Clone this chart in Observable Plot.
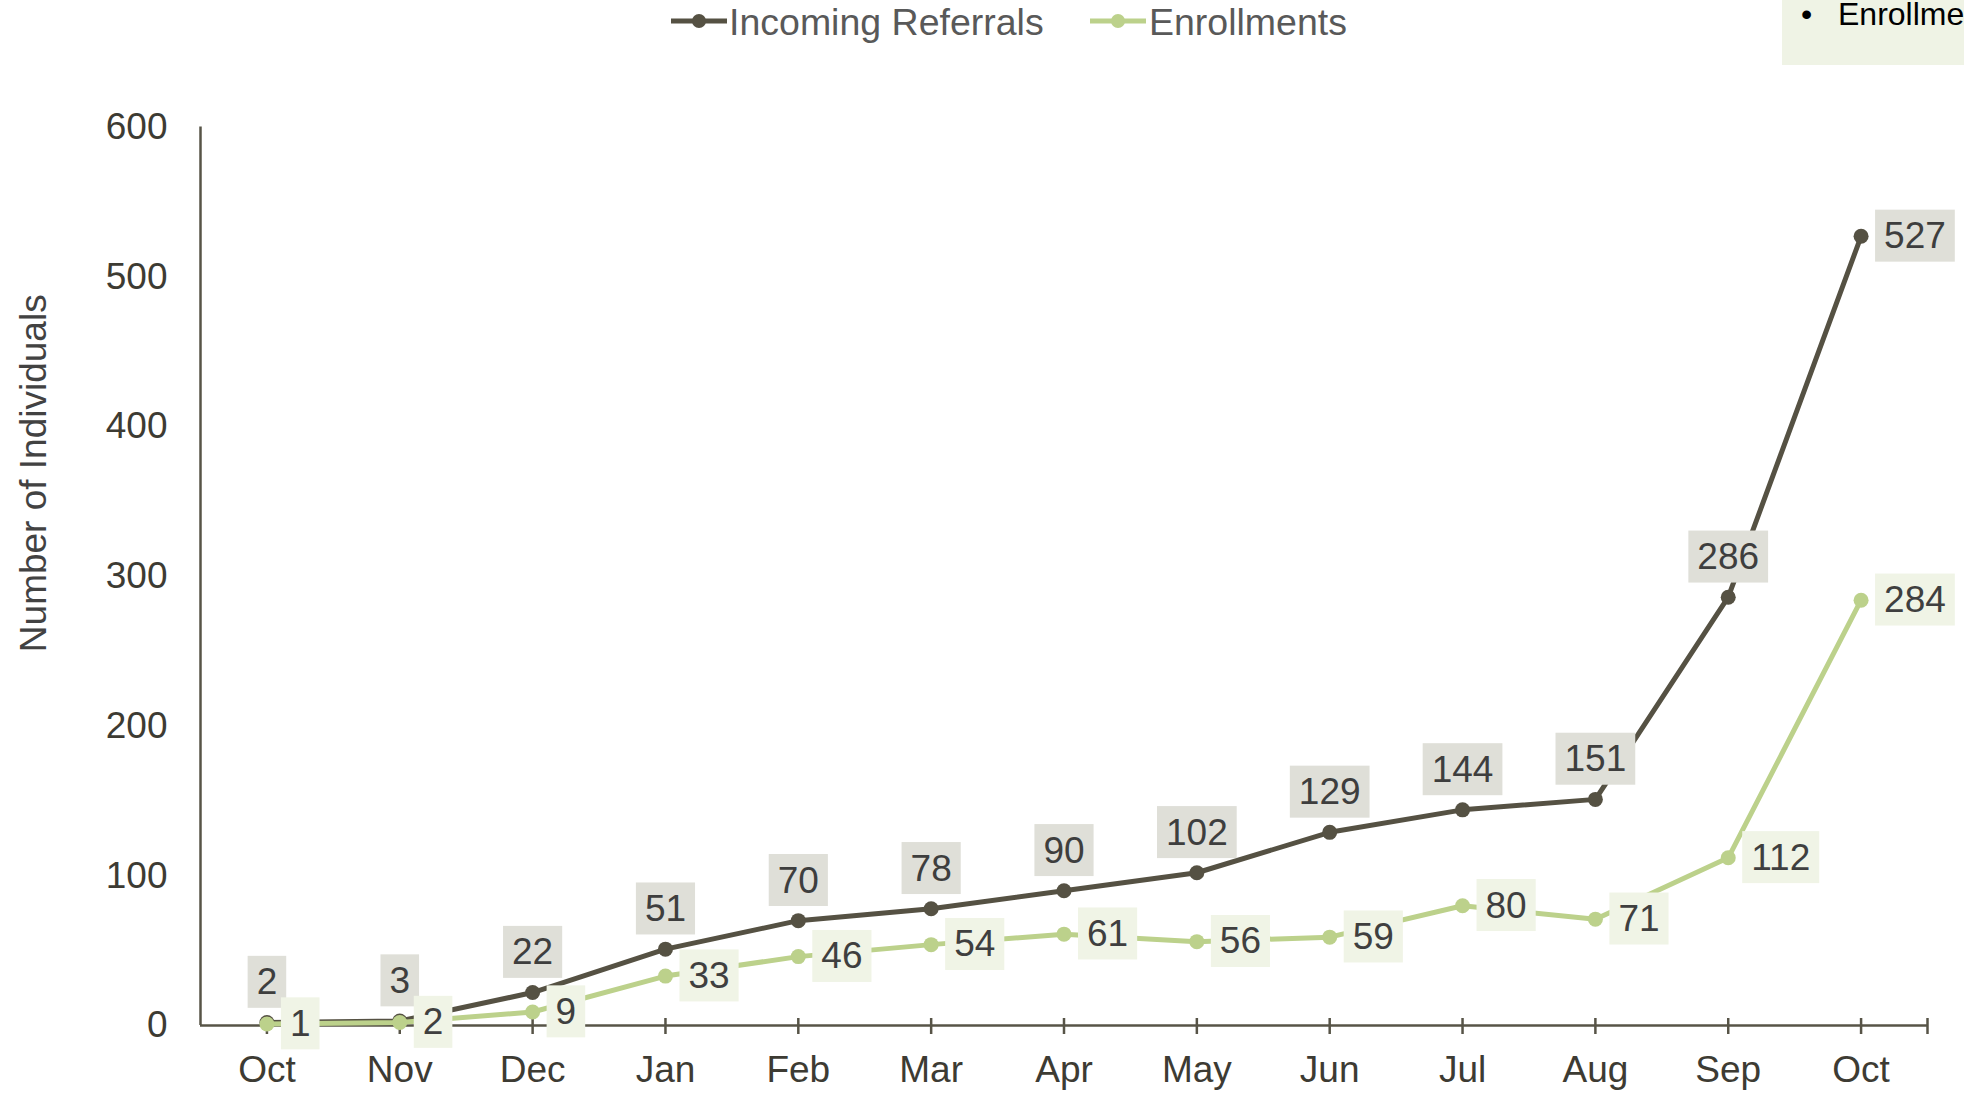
<!DOCTYPE html>
<html>
<head>
<meta charset="utf-8">
<script src="https://cdn.jsdelivr.net/npm/d3@7"></script>
<script src="https://cdn.jsdelivr.net/npm/@observablehq/plot@0.6"></script>
<style>
  html, body { margin: 0; padding: 0; background: #ffffff; overflow: hidden; }
  #wrap { position: relative; width: 1964px; height: 1096px; font-family: "Liberation Sans", Arial, sans-serif; }
  #chart { position: absolute; left: 0; top: 0; }
  .legtext { position: absolute; top: 1px; font-size: 37.5px; color: #595959; white-space: nowrap; line-height: normal; }
  .legmark { position: absolute; top: 0; }
  #tip { position: absolute; left: 1782px; top: 0; width: 182px; height: 65px; background: #eff3e5; overflow: hidden; }
  #tip span { position: absolute; top: -4px; font-size: 32px; color: #000; white-space: nowrap; line-height: normal; }
</style>
</head>
<body>
<div id="wrap">
  <div id="chart"></div>
</div>
<script>
// ---- data ----
const months = ["Oct", "Nov", "Dec", "Jan", "Feb", "Mar", "Apr", "May", "Jun", "Jul", "Aug", "Sep", "Oct"];
const referrals = [2, 3, 22, 51, 70, 78, 90, 102, 129, 144, 151, 286, 527];
const enrollments = [1, 2, 9, 33, 46, 54, 61, 56, 59, 80, 71, 112, 284];
const yTicks = [0, 100, 200, 300, 400, 500, 600];
const seriesNames = ["Incoming Referrals", "Enrollments"];
const refLabelSide = ["top", "top", "top", "top", "top", "top", "top", "top", "top", "top", "top", "top", "right"];
const enrLabelSide = ["right", "right", "right", "right", "right", "right", "right", "right", "right", "right", "right", "right", "right"];
const yTitle = "Number of Individuals";

// ---- styles ----
const refColor = "#555143";
const enrColor = "#bcd18b";
const refBox = "#dfdfd8";
const enrBox = "#f0f4e6";
const axisColor = "#575447";
const textColor = "#3d3b33";
const titleColor = "#424242";
const refLabelFill = "#3e3e3e";
const enrLabelFill = "#3f3f3f";

const refRows = referrals.map((v, i) => ({i, value: v, side: refLabelSide[i]}));
const enrRows = enrollments.map((v, i) => ({i, value: v, side: enrLabelSide[i]}));
const xTickPos = months.map((m, i) => i).concat([months.length - 0.5]);

function labelMarks(rows, fill) {
  const marks = [];
  if (rows.some(d => d.side === "top"))
    marks.push(Plot.text(rows, {filter: d => d.side === "top", x: "i", y: "value", text: d => String(d.value), textAnchor: "middle", dy: -40, fontSize: 37, fill}));
  if (rows.some(d => d.side === "right"))
    marks.push(Plot.text(rows, {filter: d => d.side === "right", x: "i", y: "value", text: d => String(d.value), textAnchor: "start", dx: 23, fontSize: 37, fill}));
  return marks;
}

const chart = Plot.plot({
  width: 1964,
  height: 1096,
  marginTop: 126.5,
  marginBottom: 71,
  marginLeft: 200,
  marginRight: 37,
  style: {fontFamily: "'Liberation Sans', Arial, sans-serif", fontSize: "37px", color: textColor, background: "transparent", overflow: "visible"},
  x: {type: "linear", domain: [-0.5, months.length - 0.5], ticks: months.map((m, i) => i), tickFormat: i => months[i], tickSize: 0, tickPadding: 30, label: null},
  y: {domain: [0, 600], ticks: yTicks, tickSize: 0, tickPadding: 33, label: null},
  marks: [
    Plot.ruleX([-0.5], {stroke: axisColor, strokeWidth: 2.5}),
    Plot.ruleY([0], {stroke: axisColor, strokeWidth: 2.5}),
    Plot.ruleX(xTickPos, {x: d => d, y1: 0, y2: 0, insetTop: -7, insetBottom: -9, stroke: axisColor, strokeWidth: 2.5}),
    Plot.text([yTitle], {frameAnchor: "left", textAnchor: "middle", rotate: -90, dx: -166, dy: -103, fontSize: 37, fill: titleColor}),
    Plot.line(refRows, {x: "i", y: "value", stroke: refColor, strokeWidth: 5, strokeLinejoin: "round"}),
    Plot.dot(refRows, {x: "i", y: "value", r: 7.5, fill: refColor, stroke: "none"}),
    Plot.line(enrRows, {x: "i", y: "value", stroke: enrColor, strokeWidth: 5, strokeLinejoin: "round"}),
    Plot.dot(enrRows, {x: "i", y: "value", r: 7.5, fill: enrColor, stroke: "none"}),
    ...labelMarks(refRows, refLabelFill),
    ...labelMarks(enrRows, enrLabelFill)
  ]
});
document.getElementById("chart").appendChild(chart);

// label background boxes
const svgns = "http://www.w3.org/2000/svg";
const boxFor = {[refLabelFill]: refBox, [enrLabelFill]: enrBox};
chart.querySelectorAll("text").forEach(t => {
  let fill = t.getAttribute("fill");
  if (!fill && t.parentNode) fill = t.parentNode.getAttribute("fill");
  const box = boxFor[fill];
  if (!box) return;
  const b = t.getBBox();
  const r = document.createElementNS(svgns, "rect");
  r.setAttribute("x", b.x - 9);
  r.setAttribute("y", b.y + b.height / 2 - 26);
  r.setAttribute("width", b.width + 18);
  r.setAttribute("height", 52);
  r.setAttribute("fill", box);
  r.setAttribute("stroke", "none");
  if (t.getAttribute("transform")) r.setAttribute("transform", t.getAttribute("transform"));
  t.parentNode.insertBefore(r, t);
});

// legend (HTML above the svg)
const wrap = document.getElementById("wrap");
const legendItems = [
  {name: seriesNames[0], color: refColor, markLeft: 671, textLeft: 729},
  {name: seriesNames[1], color: enrColor, markLeft: 1090, textLeft: 1149}
];
legendItems.forEach(it => {
  const m = document.createElementNS(svgns, "svg");
  m.setAttribute("class", "legmark");
  m.setAttribute("width", 56);
  m.setAttribute("height", 42);
  m.style.left = it.markLeft + "px";
  m.innerHTML = `<line x1="0" x2="56" y1="21" y2="21" stroke="${it.color}" stroke-width="5"/><circle cx="28" cy="21" r="7" fill="${it.color}"/>`;
  wrap.appendChild(m);
  const s = document.createElement("div");
  s.className = "legtext";
  s.style.left = it.textLeft + "px";
  s.textContent = it.name;
  wrap.appendChild(s);
});

// stray tooltip box at top right
const tip = document.createElement("div");
tip.id = "tip";
tip.innerHTML = `<span style="left:19px">•</span><span style="left:56px">${seriesNames[1]}</span>`;
wrap.appendChild(tip);
</script>
</body>
</html>
